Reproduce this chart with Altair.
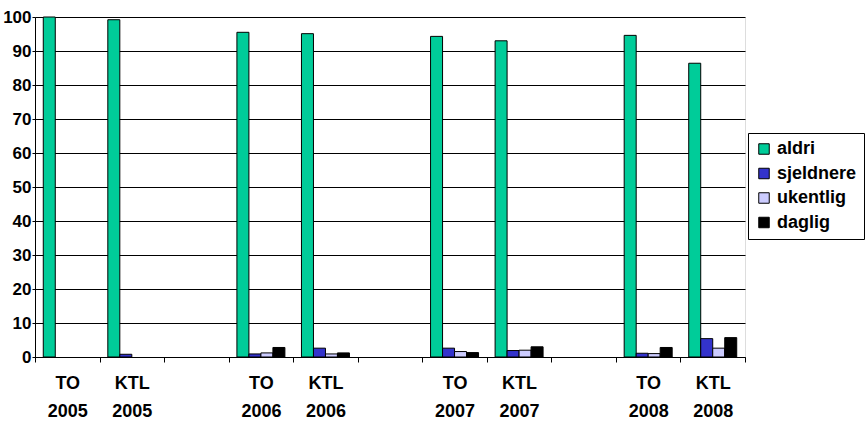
import altair as alt
import pandas as pd

# Survey groups along the x axis; the "gap" entries are empty spacer slots
categories = ["TO 2005", "KTL 2005", "gap1",
              "TO 2006", "KTL 2006", "gap2",
              "TO 2007", "KTL 2007", "gap3",
              "TO 2008", "KTL 2008"]

series = ["aldri", "sjeldnere", "ukentlig", "daglig"]
colors = ["#00CC99", "#3333CC", "#CCCCFF", "#000000"]

# Percentages per frequency answer (None = no bar)
aldri     = [100.0, 99.2, None, 95.5, 95.1, None, 94.3, 93.0, None, 94.6, 86.4]
sjeldnere = [None,  0.8,  None, 0.9,  2.6,  None, 2.6,  1.9,  None, 1.1,  5.4]
ukentlig  = [None,  None, None, 1.2,  0.9,  None, 1.6,  2.0,  None, 1.0,  2.6]
daglig    = [None,  None, None, 2.8,  1.2,  None, 1.3,  3.0,  None, 2.8,  5.7]

rows = []
for name, vals in zip(series, [aldri, sjeldnere, ukentlig, daglig]):
    for cat, v in zip(categories, vals):
        if v is not None:
            rows.append({"gruppe": cat, "svar": name, "prosent": v})
df = pd.DataFrame(rows)

FONT = "Liberation Sans"

chart = alt.Chart(df).mark_bar(stroke="black", strokeWidth=1).encode(
    x=alt.X("gruppe:N",
            sort=categories,
            scale=alt.Scale(domain=categories, paddingInner=0, paddingOuter=0),
            axis=alt.Axis(
                title=None,
                labelAngle=0,
                labelExpr="indexof(datum.label, 'gap') === 0 ? '' : split(datum.label, ' ')",
                labelFont=FONT, labelFontSize=18, labelFontWeight="bold",
                labelColor="black", labelLineHeight=28, labelPadding=12,
                tickBand="extent", tickSize=5, tickColor="black",
                domainColor="black", labelBaseline="top")),
    xOffset=alt.XOffset("svar:N", sort=series,
                        scale=alt.Scale(domain=series, paddingInner=0, paddingOuter=0.69)),
    y=alt.Y("prosent:Q",
            scale=alt.Scale(domain=[0, 100], nice=False),
            axis=alt.Axis(
                title=None,
                values=list(range(0, 101, 10)),
                labelFont=FONT, labelFontSize=17, labelFontWeight="bold",
                labelColor="black", labelPadding=1,
                tickSize=3, tickColor="black", domainColor="black",
                grid=True, gridColor="black", gridOpacity=1, gridWidth=1)),
    color=alt.Color("svar:N", sort=series,
                    scale=alt.Scale(domain=series, range=colors),
                    legend=alt.Legend(
                        title=None, orient="none", legendX=713, legendY=116,
                        symbolType="square", symbolSize=110,
                        symbolStrokeColor="black", symbolStrokeWidth=1,
                        labelFont=FONT, labelFontSize=18, labelFontWeight="bold",
                        labelColor="black", labelOffset=4, rowPadding=6.5,
                        padding=7, strokeColor="black", fillColor="white")),
).properties(
    width=710,
    height=340,
    autosize=alt.AutoSizeParams(type="none"),
    padding={"left": 35, "top": 17, "right": 123, "bottom": 66},
).configure_view(
    stroke="#808080", strokeWidth=1
).configure(background="white")

chart.save("out.html", embed_options={"renderer": "svg", "actions": False})
